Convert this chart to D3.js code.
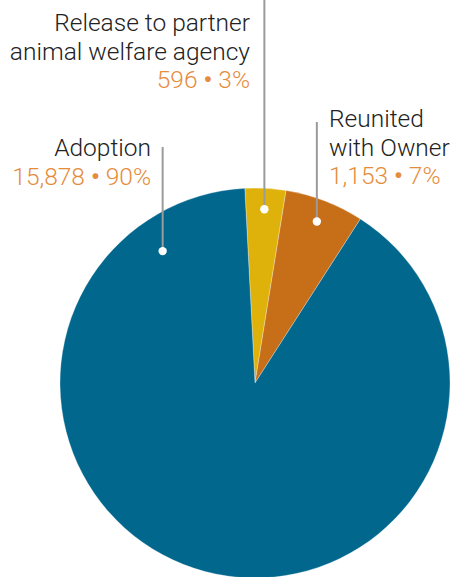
<!DOCTYPE html>
<html>
<head>
<meta charset="utf-8">
<script src="https://cdn.jsdelivr.net/npm/d3@7"></script>
<style>
  html, body { margin: 0; padding: 0; background: #fff; }
  svg { display: block; }
  .lbl { font-family: Roboto, "Open Sans", sans-serif; font-weight: 300; }
</style>
</head>
<body>
<div id="chart"></div>
<script>
// Outcomes data
const categories = ['Release to partner animal welfare agency', 'Reunited with Owner', 'Adoption'];
const counts = [596, 1153, 15878];
const countLabels = ['596', '1,153', '15,878'];
const pctLabels = ['3%', '7%', '90%'];
const colors = ['#dfb20b', '#c76e18', '#01678d'];

const W = 453, H = 577;
const cx = 255, cy = 383, radius = 195;

const svg = d3.select('#chart').append('svg')
    .attr('width', W)
    .attr('height', H);

const g = svg.append('g').attr('transform', `translate(${cx},${cy})`);

const startA = -3 * Math.PI / 180;
const pie = d3.pie()
    .sort(null)
    .value(d => d)
    .startAngle(startA)
    .endAngle(startA + 2 * Math.PI);

const arcs = pie(counts);
const arc = d3.arc().innerRadius(0).outerRadius(radius);

g.selectAll('path')
    .data(arcs)
    .enter()
    .append('path')
    .attr('d', arc)
    .attr('fill', (d, i) => colors[i])
    .attr('stroke', 'rgba(255,255,255,0.5)')
    .attr('stroke-width', 0.6);

// label layout (text lines, anchors, leader lines)
const layout = [
    { lines: ['Release to partner', 'animal welfare agency'], x: 250, y: 31, anchor: 'end', dotR: 174, dotAngle: null, lineTop: 0 },
    { lines: ['Reunited', 'with Owner'], x: 329, y: 127, anchor: 'start', dotR: 173, dotAngle: null, lineTop: 122 },
    { lines: ['Adoption'], x: 151, y: 156, anchor: 'end', dotR: 161, dotAngle: -35, lineTop: 147 }
];
const lineGap = 28.5;

arcs.forEach((a, i) => {
    const L = layout[i];
    const ang = L.dotAngle !== null ? L.dotAngle * Math.PI / 180 : (a.startAngle + a.endAngle) / 2;
    const dx = cx + L.dotR * Math.sin(ang);
    const dy = cy - L.dotR * Math.cos(ang);

    svg.append('line')
        .attr('x1', dx).attr('x2', dx)
        .attr('y1', L.lineTop).attr('y2', dy)
        .attr('stroke', '#9b9b9b')
        .attr('stroke-width', 2);

    svg.append('circle')
        .attr('cx', dx).attr('cy', dy)
        .attr('r', 4.2)
        .attr('fill', '#fff');

    const t = svg.append('text')
        .attr('class', 'lbl')
        .attr('text-anchor', L.anchor)
        .style('font-size', '24.5px');

    L.lines.forEach((s, j) => {
        t.append('tspan')
            .attr('x', L.x)
            .attr('y', L.y + j * lineGap)
            .attr('fill', '#222')
            .text(s);
    });
    // value line: count, bold bullet, percent
    const vy = L.y + L.lines.length * lineGap;
    t.append('tspan')
        .attr('x', L.x)
        .attr('y', vy)
        .attr('fill', '#e58c3c')
        .text(`${countLabels[i]} `);
    t.append('tspan')
        .attr('fill', '#e58c3c')
        .style('font-weight', 700)
        .text('\u2022');
    t.append('tspan')
        .attr('fill', '#e58c3c')
        .text(` ${pctLabels[i]}`);
});
</script>
</body>
</html>
